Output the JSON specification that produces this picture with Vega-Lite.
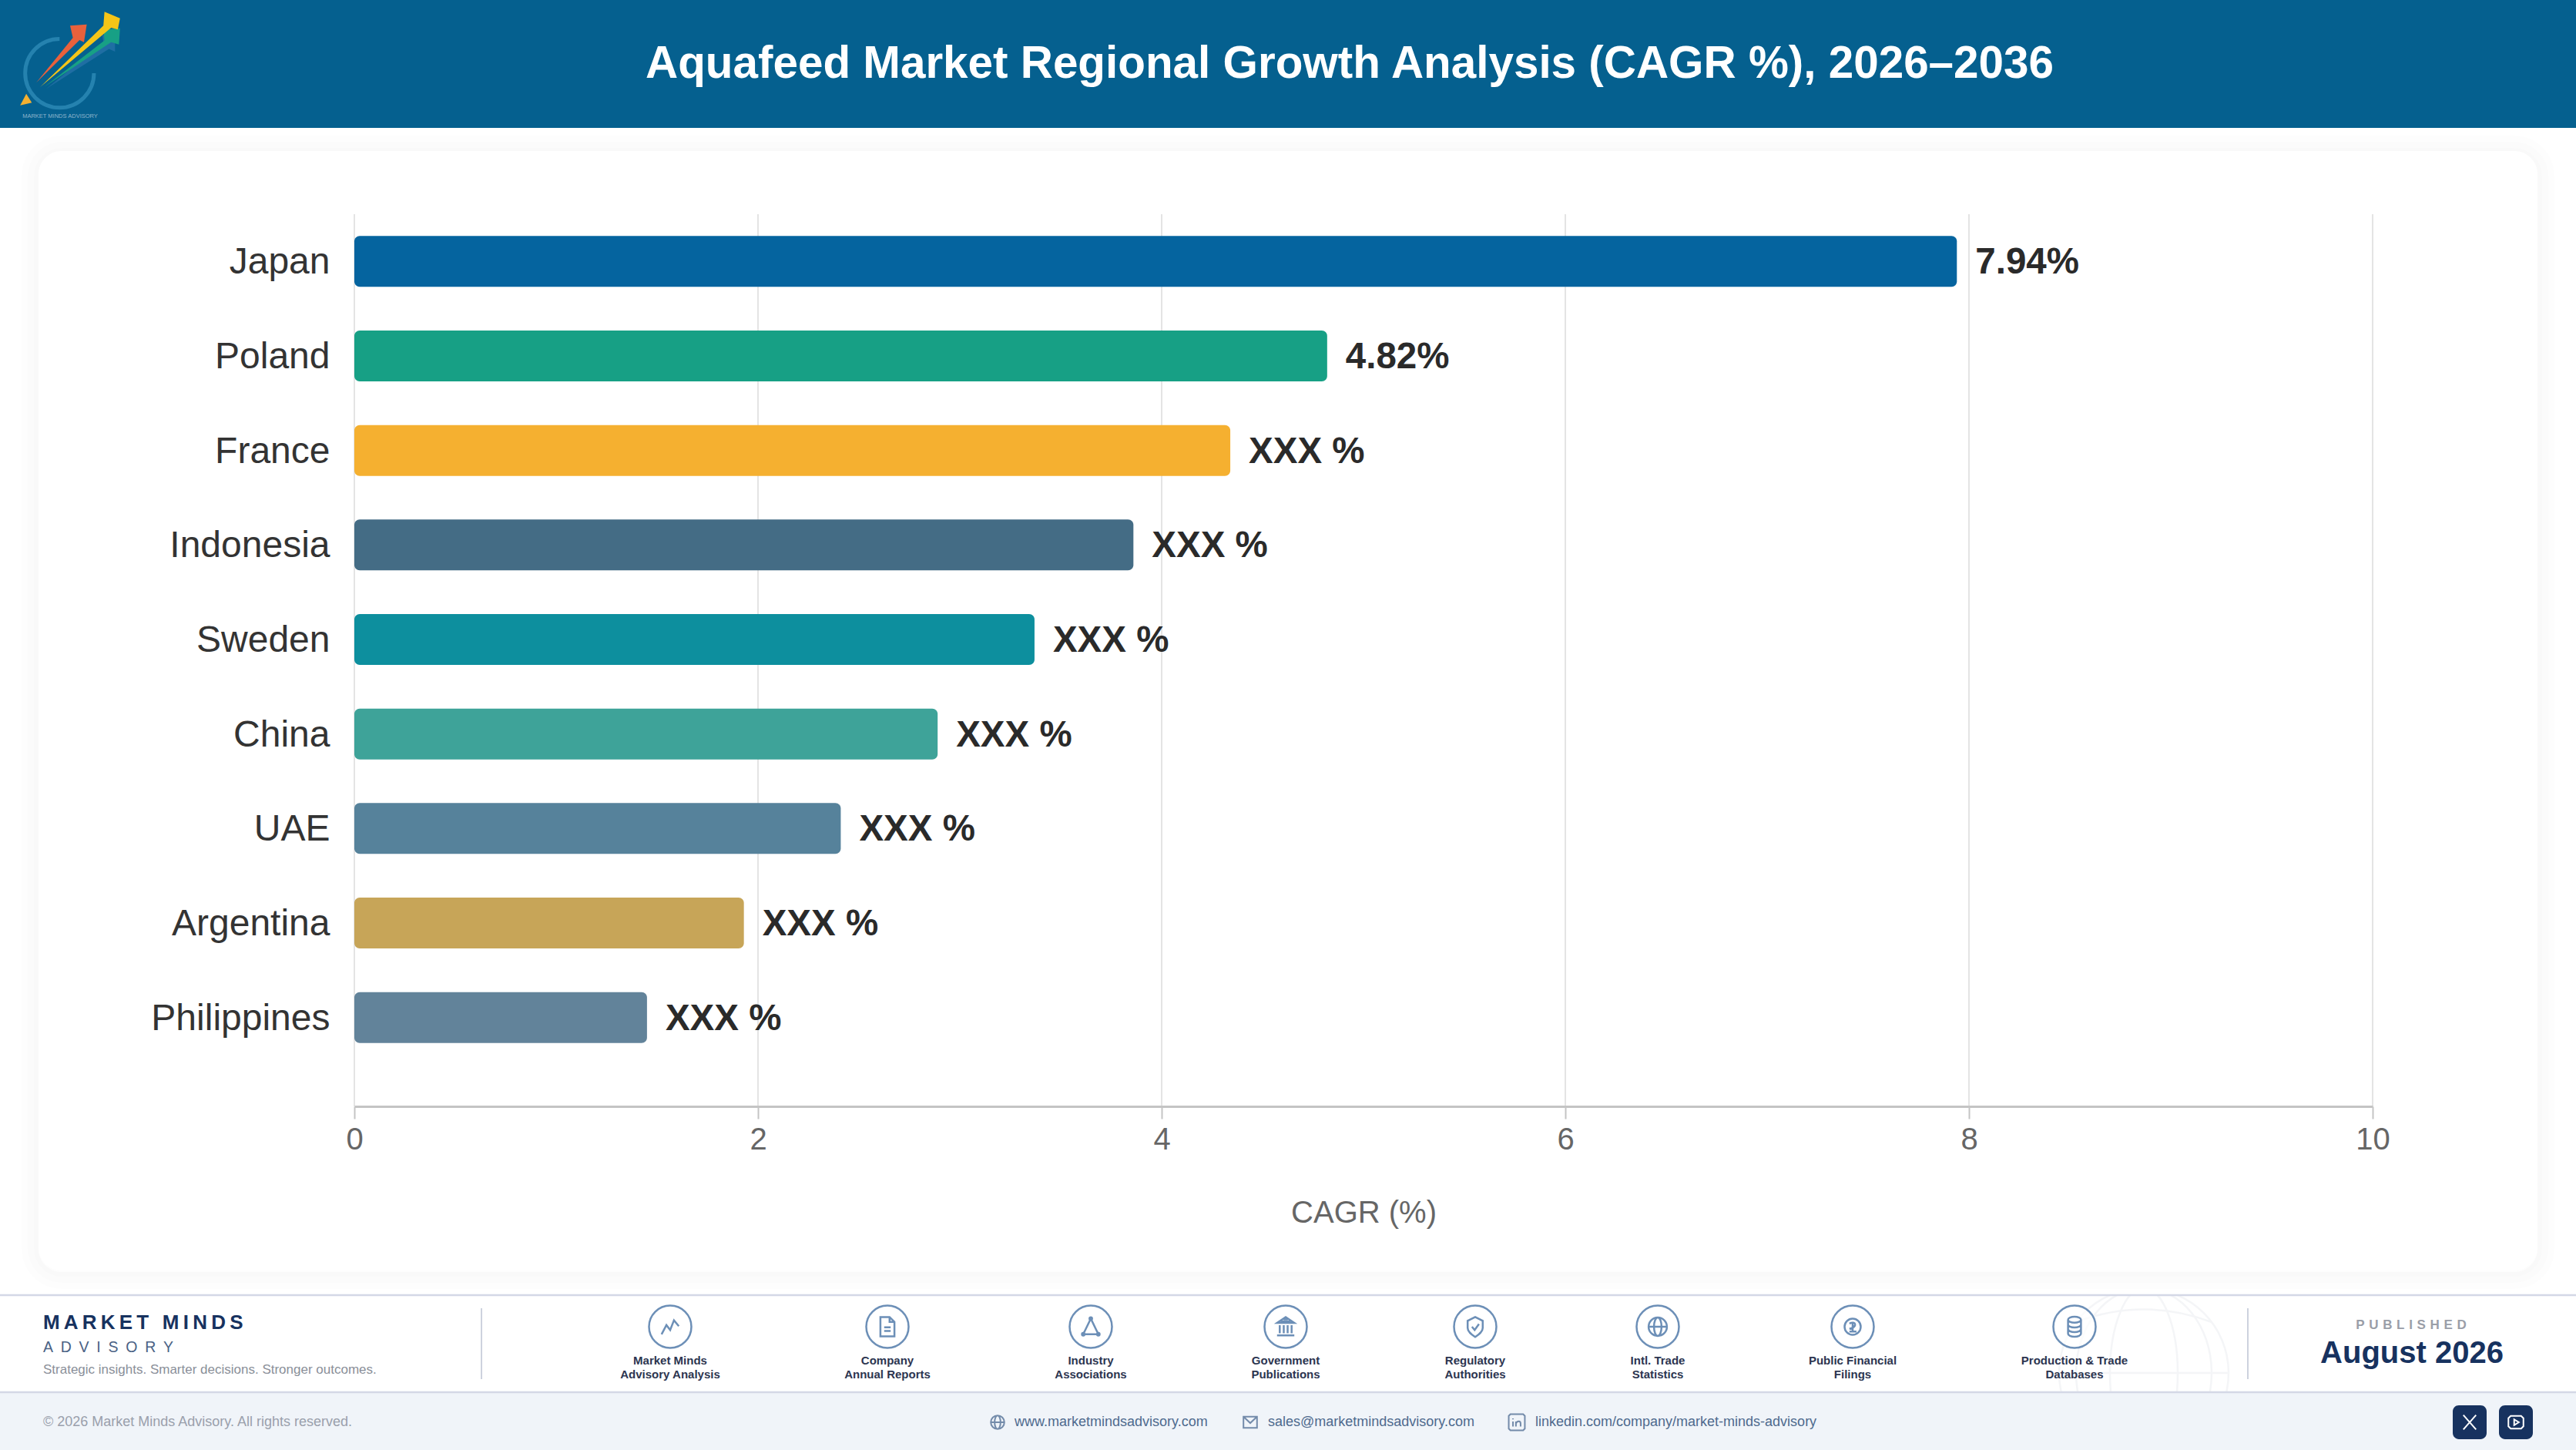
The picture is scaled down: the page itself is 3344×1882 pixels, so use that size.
{
  "$schema": "https://vega.github.io/schema/vega-lite/v6.json",
  "width": 3344,
  "height": 1882,
  "padding": 0,
  "autosize": {"type": "none"},
  "background": "#ffffff",
  "view": {"stroke": null},
  "config": {"font": "Liberation Sans", "text": {"font": "Liberation Sans"}},
  "title": {"text": "Aquafeed Market Regional Growth Analysis (CAGR %), 2026–2036", "font": "Liberation Sans", "fontSize": 58.4, "fontWeight": "bold", "color": "#ffffff", "anchor": "middle", "frame": "group", "dx": 80, "offset": -159, "baseline": "alphabetic", "zindex": 1},
  "data": {"values": [{"page": "Aquafeed"}]},
  "datasets": {
    "bars": [
      {"country": "Japan", "cagr": 7.94, "label": "7.94%"},
      {"country": "Poland", "cagr": 4.82, "label": "4.82%"},
      {"country": "France", "cagr": 4.34, "label": "XXX %"},
      {"country": "Indonesia", "cagr": 3.86, "label": "XXX %"},
      {"country": "Sweden", "cagr": 3.37, "label": "XXX %"},
      {"country": "China", "cagr": 2.89, "label": "XXX %"},
      {"country": "UAE", "cagr": 2.41, "label": "XXX %"},
      {"country": "Argentina", "cagr": 1.93, "label": "XXX %"},
      {"country": "Philippines", "cagr": 1.45, "label": "XXX %"}
    ],
    "ticks": [{"tick": 0}, {"tick": 2}, {"tick": 4}, {"tick": 6}, {"tick": 8}, {"tick": 10}],
    "sources": [
      {"item": 1, "source": "Market Minds\nAdvisory Analysis", "icon": "chart"},
      {"item": 2, "source": "Company\nAnnual Reports", "icon": "document"},
      {"item": 3, "source": "Industry\nAssociations", "icon": "network"},
      {"item": 4, "source": "Government\nPublications", "icon": "bank"},
      {"item": 5, "source": "Regulatory\nAuthorities", "icon": "shield"},
      {"item": 6, "source": "Intl. Trade\nStatistics", "icon": "globe"},
      {"item": 7, "source": "Public Financial\nFilings", "icon": "coin"},
      {"item": 8, "source": "Production & Trade\nDatabases", "icon": "database"}
    ],
    "contacts": [
      {"item": 1, "contact": "www.marketmindsadvisory.com", "icon": "globe"},
      {"item": 2, "contact": "sales@marketmindsadvisory.com", "icon": "mail"},
      {"item": 3, "contact": "linkedin.com/company/market-minds-advisory", "icon": "linkedin"}
    ],
    "social": [
      {"item": 1, "network": "X"},
      {"item": 2, "network": "YouTube"}
    ],
    "logoFill": [
      {"part": "blue"},
      {"part": "orange"},
      {"part": "green"},
      {"part": "yellow"},
      {"part": "tip"}
    ]
  },
  "resolve": {
    "scale": {"x": "independent", "y": "independent", "color": "independent", "shape": "independent"},
    "axis": {"x": "independent", "y": "independent"}
  },
  "layer": [
    {
      "mark": {"type": "rect", "fill": "#ffffff"},
      "encoding": {
        "x": {"datum": 0, "type": "quantitative", "scale": {"domain": [0, 1], "range": [0, 3344]}, "axis": null},
        "x2": {"datum": 1},
        "y": {"datum": 0, "type": "quantitative", "scale": {"domain": [0, 1], "range": [1681, 1807]}, "axis": null},
        "y2": {"datum": 1}
      }
    },
    {
      "mark": {"type": "point", "filled": false, "stroke": "#f0f2f5", "strokeWidth": 2.5, "size": 48400, "shape": "M-1,0 A1,1 0 1 0 1,0 A1,1 0 1 0 -1,0 M0,-1 A0.4,1 0 0 0 0,1 A0.4,1 0 0 0 0,-1 M0,-1 A0.8,1 0 0 0 0,1 A0.8,1 0 0 0 0,-1 M-1,0 L1,0 M-0.8,-0.6 Q0,-0.9 0.8,-0.6"},
      "encoding": {
        "x": {"datum": 0, "type": "quantitative", "scale": {"domain": [0, 1], "range": [2783, 2784]}, "axis": null},
        "y": {"datum": 0, "type": "quantitative", "scale": {"domain": [0, 1], "range": [1782, 1783]}, "axis": null}
      }
    },
    {
      "mark": {"type": "rect", "fill": "#ffffff"},
      "encoding": {
        "x": {"datum": 0, "type": "quantitative", "scale": {"domain": [0, 1], "range": [0, 3344]}, "axis": null},
        "x2": {"datum": 1},
        "y": {"datum": 0, "type": "quantitative", "scale": {"domain": [0, 1], "range": [166, 1681]}, "axis": null},
        "y2": {"datum": 1}
      }
    },
    {
      "mark": {"type": "rect", "fill": "#f0f4f9"},
      "encoding": {
        "x": {"datum": 0, "type": "quantitative", "scale": {"domain": [0, 1], "range": [0, 3344]}, "axis": null},
        "x2": {"datum": 1},
        "y": {"datum": 0, "type": "quantitative", "scale": {"domain": [0, 1], "range": [1807, 1882]}, "axis": null},
        "y2": {"datum": 1}
      }
    },
    {
      "mark": {"type": "rect", "fill": "#05608f"},
      "encoding": {
        "x": {"datum": 0, "type": "quantitative", "scale": {"domain": [0, 1], "range": [0, 3344]}, "axis": null},
        "x2": {"datum": 1},
        "y": {"datum": 0, "type": "quantitative", "scale": {"domain": [0, 1], "range": [0, 166]}, "axis": null},
        "y2": {"datum": 1}
      }
    },
    {
      "encoding": {
        "x": {"datum": 0, "type": "quantitative", "scale": {"domain": [0, 1], "range": [50, 3294]}, "axis": null},
        "x2": {"datum": 1},
        "y": {"datum": 0, "type": "quantitative", "scale": {"domain": [0, 1], "range": [198, 1651]}, "axis": null},
        "y2": {"datum": 1}
      },
      "layer": [
        {"mark": {"type": "rect", "cornerRadius": 30, "fill": "#ffffff", "stroke": "#000000", "strokeOpacity": 0.006, "strokeWidth": 44}},
        {"mark": {"type": "rect", "cornerRadius": 30, "fill": "#ffffff", "stroke": "#000000", "strokeOpacity": 0.007, "strokeWidth": 28}},
        {"mark": {"type": "rect", "cornerRadius": 30, "fill": "#ffffff", "stroke": "#000000", "strokeOpacity": 0.008, "strokeWidth": 12}}
      ]
    },
    {
      "mark": {"type": "rect", "cornerRadius": 30, "fill": "#ffffff"},
      "encoding": {
        "x": {"datum": 0, "type": "quantitative", "scale": {"domain": [0, 1], "range": [50, 3294]}, "axis": null},
        "x2": {"datum": 1},
        "y": {"datum": 0, "type": "quantitative", "scale": {"domain": [0, 1], "range": [196, 1649]}, "axis": null},
        "y2": {"datum": 1}
      }
    },
    {
      "data": {"name": "ticks"},
      "mark": {"type": "rule", "stroke": "#e4e4e4", "strokeWidth": 2},
      "encoding": {
        "x": {"field": "tick", "type": "quantitative", "scale": {"domain": [0, 10], "range": [460, 3080], "nice": false}, "axis": null},
        "y": {"datum": 0, "type": "quantitative", "scale": {"domain": [0, 1], "range": [1436, 278]}, "axis": null},
        "y2": {"datum": 1}
      }
    },
    {
      "data": {"name": "bars"},
      "encoding": {
        "x": {
          "field": "cagr",
          "type": "quantitative",
          "stack": null,
          "scale": {"domain": [0, 10], "range": [460, 3080], "nice": false},
          "axis": {
            "orient": "bottom",
            "offset": -446,
            "values": [0, 2, 4, 6, 8, 10],
            "format": "d",
            "grid": false,
            "zindex": 1,
            "labelFlush": false,
            "title": "CAGR (%)",
            "titleFont": "Liberation Sans",
            "titleFontSize": 40,
            "titleFontWeight": "normal",
            "titleColor": "#666666",
            "titlePadding": 55,
            "labelFont": "Liberation Sans",
            "labelFontSize": 40,
            "labelColor": "#666666",
            "labelPadding": 7,
            "tickSize": 16,
            "tickColor": "#c4c4c4",
            "tickWidth": 2,
            "domainColor": "#c4c4c4",
            "domainWidth": 3
          }
        },
        "y": {
          "field": "country",
          "type": "nominal",
          "sort": null,
          "scale": {"range": [278, 1382], "paddingInner": 0.462, "paddingOuter": 0.231},
          "axis": {
            "orient": "left",
            "offset": -460,
            "title": null,
            "grid": false,
            "domain": false,
            "ticks": false,
            "zindex": 1,
            "labelFont": "Liberation Sans",
            "labelFontSize": 48,
            "labelColor": "#333333",
            "labelPadding": 32,
            "labelLimit": 500,
            "labelOffset": 2
          }
        }
      },
      "layer": [
        {
          "mark": {"type": "bar", "cornerRadius": 7},
          "encoding": {
            "color": {
              "field": "country",
              "type": "nominal",
              "legend": null,
              "scale": {
                "domain": ["Japan", "Poland", "France", "Indonesia", "Sweden", "China", "UAE", "Argentina", "Philippines"],
                "range": ["#05649f", "#17a085", "#f5b030", "#446c85", "#0d8f9e", "#3ea399", "#56829b", "#c7a558", "#62839a"]
              }
            }
          }
        },
        {
          "mark": {"type": "text", "align": "left", "baseline": "middle", "dx": 24, "dy": 2, "fontSize": 47.5, "fontWeight": "bold", "fill": "#2a2a2a"},
          "encoding": {"text": {"field": "label"}}
        }
      ]
    },
    {
      "data": {"name": "sources"},
      "encoding": {
        "x": {"field": "item", "type": "quantitative", "scale": {"domain": [1, 2, 3, 4, 5, 6, 7, 8], "range": [870, 1152, 1416, 1669, 1915, 2152, 2405, 2693], "nice": false}, "axis": null}
      },
      "resolve": {"scale": {"y": "independent"}},
      "layer": [
        {
          "mark": {"type": "point", "shape": "circle", "filled": true, "fill": "#ffffff", "stroke": "#2f6099", "strokeWidth": 2.5, "size": 3025},
          "encoding": {"y": {"datum": 0, "type": "quantitative", "scale": {"domain": [0, 1], "range": [1722, 1723]}, "axis": null}}
        },
        {
          "mark": {"type": "point", "filled": false, "stroke": "#2f6099", "strokeWidth": 2.5, "size": 784},
          "encoding": {
            "y": {"datum": 0, "type": "quantitative", "scale": {"domain": [0, 1], "range": [1722, 1723]}, "axis": null},
            "shape": {
              "field": "icon",
              "type": "nominal",
              "legend": null,
              "scale": {
                "domain": ["chart", "document", "network", "bank", "shield", "globe", "coin", "database"],
                "range": [
                  "M-0.8,0.7 L-0.35,-0.15 L0,0.3 L0.35,-0.6 L0.8,-0.05",
                  "M-0.65,-0.9 L0.2,-0.9 L0.65,-0.45 L0.65,0.9 L-0.65,0.9 Z M0.2,-0.9 L0.2,-0.45 L0.65,-0.45 M-0.3,0.05 L0.3,0.05 M-0.3,0.4 L0.3,0.4",
                  "M0,-0.75 L-0.7,0.7 L0.7,0.7 Z M-0.12,-0.75 A0.12,0.12 0 1 0 0.12,-0.75 A0.12,0.12 0 1 0 -0.12,-0.75 M-0.82,0.7 A0.12,0.12 0 1 0 -0.58,0.7 A0.12,0.12 0 1 0 -0.82,0.7 M0.58,0.7 A0.12,0.12 0 1 0 0.82,0.7 A0.12,0.12 0 1 0 0.58,0.7",
                  "M-0.8,-0.35 L0,-0.9 L0.8,-0.35 Z M-0.45,-0.48 L0.45,-0.48 M-0.2,-0.68 L0.2,-0.68 M-0.55,-0.15 L-0.55,0.6 M-0.18,-0.15 L-0.18,0.6 M0.18,-0.15 L0.18,0.6 M0.55,-0.15 L0.55,0.6 M-0.8,0.8 L0.8,0.8",
                  "M0,-0.9 L0.7,-0.55 L0.7,0.1 C0.7,0.5 0.3,0.75 0,0.95 C-0.3,0.75 -0.7,0.5 -0.7,0.1 L-0.7,-0.55 Z M-0.3,0 L-0.05,0.3 L0.35,-0.25",
                  "M-0.85,0 A0.85,0.85 0 1 0 0.85,0 A0.85,0.85 0 1 0 -0.85,0 M-0.85,0 L0.85,0 M0,-0.85 A0.35,0.85 0 0 0 0,0.85 A0.35,0.85 0 0 0 0,-0.85",
                  "M-0.75,0 A0.75,0.75 0 1 0 0.75,0 A0.75,0.75 0 1 0 -0.75,0 M0,-0.45 L0,0.45 M-0.3,-0.3 C0.3,-0.6 0.5,0 -0.3,0.2 M-0.3,0.45 L0.35,0.45",
                  "M-0.6,-0.65 A0.6,0.28 0 1 0 0.6,-0.65 A0.6,0.28 0 1 0 -0.6,-0.65 M-0.6,-0.65 L-0.6,0.65 A0.6,0.28 0 0 0 0.6,0.65 L0.6,-0.65 M-0.6,-0.2 A0.6,0.28 0 0 0 0.6,-0.2 M-0.6,0.22 A0.6,0.28 0 0 0 0.6,0.22"
                ]
              }
            }
          }
        },
        {
          "mark": {"type": "text", "align": "center", "baseline": "top", "lineBreak": "\n", "lineHeight": 18, "fontSize": 15, "fontWeight": "bold", "fill": "#2c3550"},
          "encoding": {
            "y": {"datum": 0, "type": "quantitative", "scale": {"domain": [0, 1], "range": [1759, 1760]}, "axis": null},
            "text": {"field": "source"}
          }
        }
      ]
    },
    {
      "data": {"values": [{"rule": "left"}, {"rule": "right"}]},
      "mark": {"type": "rule", "stroke": "#cdd2de", "strokeWidth": 2},
      "encoding": {
        "x": {"field": "rule", "type": "nominal", "sort": null, "scale": {"type": "point", "padding": 0, "domain": ["left", "right"], "range": [625, 2918]}, "axis": null},
        "y": {"datum": 0, "type": "quantitative", "scale": {"domain": [0, 1], "range": [1698, 1790]}, "axis": null},
        "y2": {"datum": 1}
      }
    },
    {
      "data": {"values": [{"rule": "top"}, {"rule": "bottom"}]},
      "mark": {"type": "rule", "stroke": "#d4d8e6", "strokeWidth": 2.5},
      "encoding": {
        "y": {"field": "rule", "type": "nominal", "sort": null, "scale": {"type": "point", "padding": 0, "domain": ["top", "bottom"], "range": [1681, 1807]}, "axis": null},
        "x": {"datum": 0, "type": "quantitative", "scale": {"domain": [0, 1], "range": [0, 3344]}, "axis": null},
        "x2": {"datum": 1}
      }
    },
    {
      "data": {"values": [{"line": "M\u2009A\u2009R\u2009K\u2009E\u2009T\u2009 \u2009M\u2009I\u2009N\u2009D\u2009S"}]},
      "mark": {"type": "text", "align": "left", "baseline": "middle", "fontSize": 26, "fontWeight": "bold", "fill": "#17325f"},
      "encoding": {
        "x": {"datum": 0, "type": "quantitative", "scale": {"domain": [0, 1], "range": [56, 57]}, "axis": null},
        "y": {"datum": 0, "type": "quantitative", "scale": {"domain": [0, 1], "range": [1717, 1718]}, "axis": null},
        "text": {"field": "line"}
      }
    },
    {
      "data": {"values": [{"line": "A\u2002D\u2002V\u2002I\u2002S\u2002O\u2002R\u2002Y"}]},
      "mark": {"type": "text", "align": "left", "baseline": "middle", "fontSize": 19.5, "fill": "#4a6285"},
      "encoding": {
        "x": {"datum": 0, "type": "quantitative", "scale": {"domain": [0, 1], "range": [56, 57]}, "axis": null},
        "y": {"datum": 0, "type": "quantitative", "scale": {"domain": [0, 1], "range": [1749, 1750]}, "axis": null},
        "text": {"field": "line"}
      }
    },
    {
      "data": {"values": [{"line": "Strategic insights. Smarter decisions. Stronger outcomes."}]},
      "mark": {"type": "text", "align": "left", "baseline": "middle", "fontSize": 17, "fill": "#8a8f99"},
      "encoding": {
        "x": {"datum": 0, "type": "quantitative", "scale": {"domain": [0, 1], "range": [56, 57]}, "axis": null},
        "y": {"datum": 0, "type": "quantitative", "scale": {"domain": [0, 1], "range": [1778, 1779]}, "axis": null},
        "text": {"field": "line"}
      }
    },
    {
      "data": {"values": [{"line": "© 2026 Market Minds Advisory. All rights reserved."}]},
      "mark": {"type": "text", "align": "left", "baseline": "middle", "fontSize": 18, "fill": "#9aa0ac"},
      "encoding": {
        "x": {"datum": 0, "type": "quantitative", "scale": {"domain": [0, 1], "range": [56, 57]}, "axis": null},
        "y": {"datum": 0, "type": "quantitative", "scale": {"domain": [0, 1], "range": [1846, 1847]}, "axis": null},
        "text": {"field": "line"}
      }
    },
    {
      "data": {"values": [{"line": "P\u2004U\u2004B\u2004L\u2004I\u2004S\u2004H\u2004E\u2004D"}]},
      "mark": {"type": "text", "align": "center", "baseline": "middle", "fontSize": 17, "fontWeight": "bold", "fill": "#9a9ea8"},
      "encoding": {
        "x": {"datum": 0, "type": "quantitative", "scale": {"domain": [0, 1], "range": [3130, 3131]}, "axis": null},
        "y": {"datum": 0, "type": "quantitative", "scale": {"domain": [0, 1], "range": [1720, 1721]}, "axis": null},
        "text": {"field": "line"}
      }
    },
    {
      "data": {"values": [{"line": "August 2026"}]},
      "mark": {"type": "text", "align": "center", "baseline": "middle", "fontSize": 40, "fontWeight": "bold", "fill": "#17325f"},
      "encoding": {
        "x": {"datum": 0, "type": "quantitative", "scale": {"domain": [0, 1], "range": [3131, 3132]}, "axis": null},
        "y": {"datum": 0, "type": "quantitative", "scale": {"domain": [0, 1], "range": [1757, 1758]}, "axis": null},
        "text": {"field": "line"}
      }
    },
    {
      "data": {"name": "contacts"},
      "encoding": {
        "y": {"datum": 0, "type": "quantitative", "scale": {"domain": [0, 1], "range": [1846, 1847]}, "axis": null}
      },
      "resolve": {"scale": {"x": "independent"}},
      "layer": [
        {
          "mark": {"type": "point", "filled": false, "stroke": "#3f5f8a", "strokeWidth": 2, "size": 484},
          "encoding": {
            "x": {"field": "item", "type": "quantitative", "scale": {"domain": [1, 2, 3], "range": [1295, 1623, 1969], "nice": false}, "axis": null},
            "shape": {
              "field": "icon",
              "type": "nominal",
              "legend": null,
              "scale": {
                "domain": ["globe", "mail", "linkedin"],
                "range": [
                  "M-0.8,0 A0.8,0.8 0 1 0 0.8,0 A0.8,0.8 0 1 0 -0.8,0 M-0.8,0 L0.8,0 M0,-0.8 A0.35,0.8 0 0 0 0,0.8 A0.35,0.8 0 0 0 0,-0.8",
                  "M-0.8,-0.65 L0.8,-0.65 L0.8,0.65 L-0.8,0.65 Z M-0.8,-0.65 L0,0.1 L0.8,-0.65",
                  "M-0.75,-0.95 L0.75,-0.95 L0.95,-0.75 L0.95,0.75 L0.75,0.95 L-0.75,0.95 L-0.95,0.75 L-0.95,-0.75 Z M-0.45,-0.1 L-0.45,0.5 M-0.45,-0.45 L-0.45,-0.35 M-0.1,0.5 L-0.1,-0.1 M-0.1,0.15 C0.05,-0.2 0.45,-0.2 0.45,0.15 L0.45,0.5"
                ]
              }
            }
          }
        },
        {
          "mark": {"type": "text", "align": "left", "baseline": "middle", "fontSize": 18, "fill": "#4e6a8e"},
          "encoding": {
            "x": {"field": "item", "type": "quantitative", "scale": {"domain": [1, 2, 3], "range": [1317, 1646, 1993], "nice": false}, "axis": null},
            "text": {"field": "contact"}
          }
        }
      ]
    },
    {
      "data": {"name": "social"},
      "encoding": {
        "x": {"field": "item", "type": "quantitative", "scale": {"domain": [1, 2], "range": [3206, 3266], "nice": false}, "axis": null},
        "y": {"datum": 0, "type": "quantitative", "scale": {"domain": [0, 1], "range": [1846, 1847]}, "axis": null}
      },
      "layer": [
        {"mark": {"type": "point", "filled": true, "fill": "#17325f", "opacity": 1, "size": 1936, "shape": "M-0.64,-1 L0.64,-1 A0.36,0.36 0 0 1 1,-0.64 L1,0.64 A0.36,0.36 0 0 1 0.64,1 L-0.64,1 A0.36,0.36 0 0 1 -1,0.64 L-1,-0.64 A0.36,0.36 0 0 1 -0.64,-1 Z"}},
        {
          "mark": {"type": "point", "filled": false, "stroke": "#ffffff", "strokeWidth": 2, "opacity": 1, "size": 900},
          "encoding": {
            "shape": {
              "field": "network",
              "type": "nominal",
              "legend": null,
              "scale": {
                "domain": ["X", "YouTube"],
                "range": [
                  "M-0.55,-0.62 L0.55,0.62 M0.55,-0.62 L-0.55,0.62",
                  "M-0.45,-0.55 L0.45,-0.55 L0.65,-0.35 L0.65,0.35 L0.45,0.55 L-0.45,0.55 L-0.65,0.35 L-0.65,-0.35 Z M-0.15,-0.25 L0.25,0 L-0.15,0.25 Z"
                ]
              }
            }
          }
        }
      ]
    },
    {
      "encoding": {
        "x": {"datum": 0, "type": "quantitative", "scale": {"domain": [0, 1], "range": [91, 92]}, "axis": null},
        "y": {"datum": 0, "type": "quantitative", "scale": {"domain": [0, 1], "range": [85, 86]}, "axis": null}
      },
      "layer": [
        {"mark": {"type": "point", "filled": false, "stroke": "#2b88b5", "strokeWidth": 5, "opacity": 0.85, "size": 20736, "shape": "M-0.19,-0.48 A0.62,0.62 0 1 0 0.43,0.14"}},
        {
          "data": {"name": "logoFill"},
          "mark": {"type": "point", "filled": true, "opacity": 1, "size": 20736},
          "encoding": {
            "shape": {
              "field": "part",
              "type": "nominal",
              "legend": null,
              "scale": {
                "domain": ["blue", "orange", "green", "yellow", "tip"],
                "range": [
                  "M-0.43,0.42 L0.6,-0.42 L0.58,-0.55 L0.81,-0.55 L0.81,-0.25 L0.7,-0.3 Z",
                  "M-0.61,0.31 L0.05,-0.5 L0,-0.72 L0.3,-0.74 L0.25,-0.42 L0.17,-0.46 Z",
                  "M-0.47,0.39 L0.62,-0.45 L0.6,-0.65 L0.9,-0.67 L0.88,-0.38 L0.74,-0.42 Z",
                  "M-0.54,0.39 L0.6,-0.72 L0.62,-0.97 L0.9,-0.85 L0.86,-0.65 L0.74,-0.68 Z",
                  "M-0.9,0.72 L-0.79,0.51 L-0.69,0.67 Z"
                ]
              }
            },
            "color": {
              "field": "part",
              "type": "nominal",
              "legend": null,
              "scale": {
                "domain": ["blue", "orange", "green", "yellow", "tip"],
                "range": ["#1f6ea3", "#e8613c", "#17a085", "#f5c518", "#f5b030"]
              }
            }
          }
        }
      ]
    },
    {
      "data": {"values": [{"line": "MARKET MINDS ADVISORY"}]},
      "mark": {"type": "text", "align": "center", "baseline": "middle", "fontSize": 7.5, "fill": "#8fb5cc"},
      "encoding": {
        "x": {"datum": 0, "type": "quantitative", "scale": {"domain": [0, 1], "range": [78, 79]}, "axis": null},
        "y": {"datum": 0, "type": "quantitative", "scale": {"domain": [0, 1], "range": [151, 152]}, "axis": null},
        "text": {"field": "line"}
      }
    }
  ]
}
